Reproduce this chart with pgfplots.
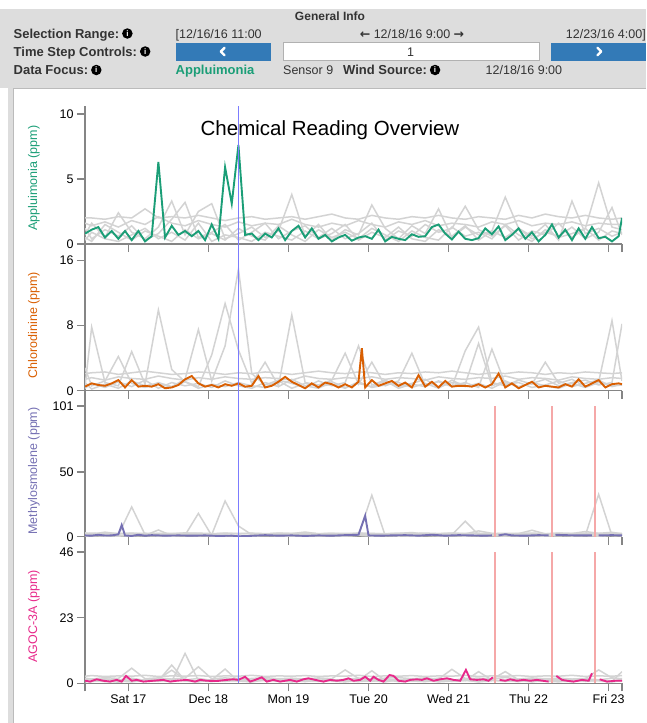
\documentclass[border=0pt]{standalone}
\usepackage{fontspec}
\setmainfont{Liberation Sans}
\newfontfamily\dejavu{DejaVu Sans}
\usepackage{pgfplots}
\usepackage{pgfplotstable}
\pgfplotsset{compat=1.18}

\definecolor{appl}{HTML}{1B9E77}
\definecolor{chlo}{HTML}{D95F02}
\definecolor{meth}{HTML}{7570B3}
\definecolor{agoc}{HTML}{E7298A}
\definecolor{othc}{HTML}{D3D3D3}
\definecolor{selc}{HTML}{7C7CFF}
\definecolor{miss}{HTML}{F5A8A8}
\definecolor{btn}{HTML}{337AB7}
\definecolor{hdr}{HTML}{DDDDDD}
\definecolor{bord}{HTML}{BBBBBB}
\definecolor{axc}{HTML}{858585}
\definecolor{txt}{HTML}{333333}

% hours since 12/16/16 00:00, other sensors
\pgfplotstableread{
t    a    b    c    d    e    f
11   2.0  1.6  0.7  1.2  0.3  0.5
13   2.0  1.4  1.6  0.4  0.9  0.2
17   1.9  1.7  0.5  1.1  0.4  1.5
21   2.1  1.3  2.4  0.6  0.2  0.9
25   2.0  1.8  0.9  1.4  0.7  0.3
29   2.7  1.5  0.4  0.3  1.2  1.0
33   2.0  2.1  1.3  0.8  0.4  0.6
37   2.1  1.6  3.3  1.9  0.9  0.2
41   2.0  1.4  0.7  3.2  0.3  1.1
45   2.2  1.8  2.5  0.5  1.6  0.4
49   2.0  1.5  3.1  0.9  0.2  0.8
53   1.8  1.3  0.4  1.5  0.7  0.3
57   2.0  1.7  0.8  0.3  0.5  1.2
61   2.1  1.4  1.3  0.9  0.2  0.6
65   1.9  1.6  0.5  1.6  0.9  0.3
69   2.0  1.5  1.0  0.4  0.6  1.4
73   2.1  1.9  3.8  1.0  0.3  0.7
77   1.9  1.5  0.6  1.4  1.0  0.2
81   2.1  1.3  1.5  0.5  0.4  1.1
85   2.3  1.6  0.3  1.2  0.8  0.5
89   2.0  1.4  1.1  0.4  1.5  0.9
93   1.9  1.8  0.7  0.8  0.3  0.4
97   2.2  1.5  3.0  1.6  0.9  1.2
101  2.0  1.3  1.2  0.3  0.5  0.7
105  1.9  1.7  0.4  1.0  1.3  0.2
109  2.1  1.5  1.4  0.6  0.4  1.0
113  2.0  1.8  0.8  1.5  0.2  0.5
117  2.2  1.4  2.7  0.9  1.1  0.3
121  2.0  1.6  0.5  1.2  0.6  1.3
125  1.9  1.5  1.3  2.9  1.4  0.6
129  2.1  1.3  0.7  1.1  0.3  0.9
133  2.0  1.7  1.0  0.6  1.0  0.4
137  1.9  1.5  3.6  1.4  0.5  1.5
141  2.2  1.8  1.2  0.3  1.2  0.7
145  2.0  1.4  0.6  1.0  0.4  0.2
149  2.3  1.6  1.5  0.7  0.9  1.1
153  2.1  1.5  0.3  1.6  0.6  0.5
157  2.0  1.7  3.3  0.5  1.3  0.8
161  2.2  1.4  0.8  1.2  0.4  1.2
165  2.0  1.6  1.2  4.7  0.9  0.3
169  1.9  1.5  0.6  1.3  2.8  1.0
172  2.0  1.5  0.9  1.1  0.7  0.8
}\grayA

\pgfplotstableread{
t    a    b    c    d    e    f
11   2.1  1.4  0.5  2.8  0.3  1.0
13   2.2  1.6  7.8  0.6  0.9  0.2
17   2.3  1.3  1.0  1.2  0.4  0.8
21   2.0  1.7  0.6  4.2  1.1  0.3
25   2.2  1.5  4.8  0.9  0.5  1.2
29   2.4  1.4  0.8  0.4  1.3  0.6
33   2.2  1.8  9.9  1.0  0.3  0.9
37   2.0  1.5  2.6  0.5  1.0  0.4
41   2.1  1.3  1.1  1.4  0.6  1.1
45   2.3  1.6  0.5  7.5  0.9  0.3
49   2.2  1.4  4.4  1.2  0.4  0.8
53   2.0  1.7  10.7 5.5  1.2  0.5
57   2.2  1.5  5.0  14.9 0.6  1.0
61   2.1  1.4  0.9  2.1  0.3  0.6
65   2.3  1.6  3.5  0.7  1.0  0.4
69   2.2  1.5  0.6  1.3  0.5  1.2
73   2.0  1.3  9.3  0.9  1.4  0.3
77   2.2  1.8  1.0  0.4  0.6  0.9
81   2.4  1.5  0.7  1.2  0.3  0.5
85   2.2  1.4  1.3  0.6  1.1  0.8
89   2.1  1.6  4.6  1.0  0.4  0.3
93   2.3  1.5  0.8  5.5  0.9  1.1
97   2.2  1.7  3.5  0.7  0.5  0.4
101  2.0  1.4  0.6  1.3  1.2  0.7
105  2.2  1.6  1.2  0.5  0.3  1.0
109  2.1  1.5  4.6  0.9  0.8  0.4
113  2.3  1.3  0.7  1.4  0.5  0.9
117  2.2  1.7  1.1  0.4  1.2  0.3
121  2.4  1.5  0.5  1.0  0.6  1.3
125  2.2  1.4  4.9  0.8  1.0  0.5
129  2.0  1.6  7.8  5.8  0.4  0.9
133  2.2  1.5  1.0  0.6  5.1  0.3
137  2.1  1.8  0.6  1.2  0.8  1.1
141  2.3  1.4  1.3  0.5  1.0  0.4
145  2.2  1.6  0.8  0.9  0.4  1.0
149  2.0  1.5  3.5  1.4  0.7  0.6
153  2.2  1.3  0.9  0.6  1.2  0.3
157  2.1  1.7  1.4  1.0  0.5  0.9
161  2.3  1.5  0.5  1.3  0.9  0.4
165  2.2  1.4  1.1  0.7  1.3  1.0
169  2.1  1.6  8.6  1.0  0.5  0.6
172  2.2  1.5  1.2  8.2  0.8  0.7
}\grayB

\pgfplotstableread{
t    a    b    c    d    e    f
11   2.5  1.5  0.8  3.0  1.2  0.5
13   2.8  1.2  1.0  2.0  0.6  1.5
17   2.4  1.8  0.5  3.5  1.0  0.8
21   2.6  1.4  1.2  2.2  0.4  1.0
25   2.5  23.0 0.7  2.8  1.3  0.6
29   2.7  1.6  1.0  2.0  0.8  1.2
33   2.4  1.3  5.2  2.6  0.5  0.9
37   2.6  1.7  0.8  2.2  1.1  0.4
41   2.5  1.5  1.2  3.0  0.7  1.0
45   2.8  1.4  18.0 2.4  1.0  0.6
49   2.4  1.6  0.9  2.0  0.5  1.3
53   2.6  27.6 1.1  2.8  1.2  0.7
57   2.5  8.3  0.6  2.2  0.8  1.0
61   2.7  1.5  1.0  2.6  0.4  0.5
65   2.4  1.2  0.8  2.0  1.1  1.2
69   2.6  1.6  1.3  2.8  0.6  0.8
73   2.5  1.4  0.7  2.4  1.0  0.4
77   2.8  1.7  1.0  3.6  0.5  1.1
81   2.4  1.3  0.6  2.2  1.2  0.7
85   2.6  1.5  1.1  2.6  0.8  1.0
89   2.5  1.8  0.9  2.0  0.4  0.6
93   2.7  1.4  1.2  2.8  1.0  1.3
97   2.5  1.6  32.0 2.4  0.7  0.5
101  2.4  1.3  0.8  2.2  1.1  0.9
105  2.6  1.7  1.0  2.6  0.5  1.2
109  2.5  1.5  0.6  3.2  0.9  0.4
113  2.8  1.2  1.2  2.0  1.3  0.8
117  2.4  1.6  0.9  2.4  0.6  1.0
121  2.6  1.4  1.1  2.8  1.0  0.6
125  2.5  12.0 0.7  2.2  0.4  1.3
129  2.7  1.5  1.0  4.5  1.2  0.7
133  2.4  1.8  0.8  2.6  0.8  1.0
137  2.6  1.3  1.2  2.0  0.5  0.5
141  2.5  1.6  0.6  2.4  1.1  1.2
145  2.8  1.4  1.0  5.0  0.7  0.8
149  2.4  1.7  0.9  2.2  1.0  0.4
153  2.6  1.5  1.3  2.8  0.6  1.1
157  2.5  1.2  0.7  2.4  1.2  0.7
161  2.7  1.6  1.0  4.0  0.8  1.0
165  2.5  1.4  32.7 2.6  0.5  0.6
169  2.4  1.8  0.8  3.4  1.0  1.2
172  2.6  1.5  1.1  2.2  0.7  0.9
}\grayC

\pgfplotstableread{
t    a    b    c    d    e    f
11   2.5  1.8  0.8  1.4  0.5  1.0
13   2.7  1.5  1.2  0.9  1.1  0.6
17   2.4  2.0  0.6  1.6  0.8  1.2
21   2.6  1.7  1.0  1.1  0.4  0.8
25   2.5  5.3  0.7  1.8  1.2  0.5
29   2.8  1.6  1.3  1.0  0.7  1.1
33   2.4  1.9  0.9  1.5  1.0  0.7
37   2.6  1.5  6.4  4.6  0.6  1.3
41   2.5  1.8  1.0  1.2  10.5 0.8
45   2.7  5.8  0.8  1.7  0.9  0.5
49   2.4  1.6  1.2  1.0  0.6  1.2
53   2.6  1.9  5.0  1.4  1.1  0.7
57   2.5  1.5  0.7  1.8  0.8  1.0
61   2.8  1.7  1.1  1.1  0.5  0.6
65   2.4  2.0  0.9  1.6  1.2  1.3
69   2.6  1.6  1.3  0.9  0.7  0.8
73   2.5  1.8  0.6  1.5  1.0  0.5
77   2.7  1.5  1.0  1.2  0.6  1.1
81   2.4  1.9  0.8  1.7  1.1  0.7
85   2.6  1.6  1.2  1.0  0.8  1.2
89   2.5  4.7  0.7  1.4  0.5  0.9
93   2.8  1.7  1.1  1.8  1.0  0.6
97   2.4  1.5  4.4  1.1  0.7  1.0
101  2.6  1.8  0.9  1.6  1.2  0.5
105  2.5  2.0  1.2  1.0  0.6  1.3
109  2.7  1.6  0.8  1.5  0.9  0.8
113  2.4  1.9  1.0  1.2  1.1  0.6
117  2.6  1.5  0.7  1.8  0.5  1.1
121  2.5  4.9  1.3  1.1  0.8  0.7
125  2.8  1.7  0.9  1.6  1.0  1.2
129  2.4  1.8  4.1  1.0  0.6  0.5
133  2.6  1.6  1.1  1.4  1.2  0.9
137  2.5  2.0  0.8  4.1  0.7  1.0
141  2.7  1.5  1.2  1.2  1.0  0.6
145  2.4  1.9  0.7  1.7  0.5  1.3
149  2.6  1.6  1.0  1.1  1.1  0.8
153  2.5  1.8  0.9  1.5  0.8  0.5
157  2.8  1.5  1.3  1.0  0.6  1.1
161  2.4  1.7  0.8  1.6  1.2  0.7
165  2.6  4.7  1.1  1.2  0.9  1.0
169  2.5  1.9  0.7  1.8  0.5  0.6
172  2.7  1.6  4.1  1.3  1.0  0.9
}\grayD

% sensor 9
\pgfplotstableread{
t v
11 0.8
13 1.1
15 1.3
17 0.5
19 1.0
21 0.4
23 1.0
25 0.3
27 1.0
29 0.2
31 0.6
33 6.3
35 0.5
37 1.4
39 0.7
41 1.0
43 0.6
45 1.0
47 0.3
49 1.5
51 0.4
53 5.9
55 3.1
57 7.6
59 0.7
61 0.8
63 0.3
65 0.8
67 0.5
69 1.2
71 0.3
73 1.0
75 1.4
77 0.5
79 1.2
81 0.4
83 0.7
85 0.2
87 0.5
89 0.7
91 0.25
93 0.5
95 0.6
97 0.4
99 1.1
101 0.2
103 0.55
105 0.4
107 0.3
109 0.75
111 0.55
113 0.6
115 1.3
117 1.5
119 0.8
121 0.35
123 0.95
125 0.4
127 0.3
129 0.45
131 1.2
133 0.75
135 1.35
137 0.3
139 0.7
141 1.2
143 0.4
145 0.9
147 0.2
149 0.7
151 1.5
153 0.5
155 1.1
157 0.3
159 1.2
161 0.4
163 1.3
165 0.45
167 0.55
169 0.2
171 0.6
172 2.0
}\selA

\pgfplotstableread{
t v
11 0.5
13 0.9
15 0.7
17 0.6
19 0.9
21 1.3
23 0.4
25 1.3
27 0.5
29 0.6
31 0.5
33 0.8
35 0.3
37 0.4
39 0.7
41 1.4
43 1.8
45 0.9
47 0.5
49 0.7
51 0.4
53 0.8
55 0.6
57 0.9
59 0.5
61 0.6
63 1.8
65 0.4
67 0.6
69 1.1
71 1.7
73 1.1
75 0.7
77 0.3
79 0.9
81 0.4
83 1.0
85 0.8
87 0.4
89 0.8
91 0.4
93 1.1
94 5.2
95 0.4
97 1.3
99 0.6
101 0.9
103 1.2
105 0.6
107 1.0
109 0.4
111 1.9
113 0.5
115 1.1
117 0.4
119 1.2
121 0.5
123 0.6
125 0.6
127 0.5
129 0.8
131 0.4
133 0.8
135 2.1
137 0.4
139 0.9
141 0.3
143 0.7
145 1.1
147 0.4
149 0.6
151 0.5
153 0.4
155 0.8
157 0.5
159 1.4
161 0.5
163 0.9
165 1.3
167 0.4
169 0.8
171 0.9
172 0.8
}\selB

\pgfplotstableread{
t v
11 1.0
13 0.8
15 1.5
17 0.9
19 1.0
21 1.8
22 9.0
23 1.0
25 0.6
27 1.5
29 0.8
31 1.2
35 0.8
39 1.0
43 0.8
47 1.0
51 0.6
55 0.8
57 0.3
61 0.7
65 1.2
69 0.8
73 1.0
77 0.6
81 1.0
85 0.8
89 1.2
93 1.5
95 16.2
96 1.0
99 0.8
103 1.0
107 1.2
111 0.8
115 1.5
119 0.8
123 1.2
127 1.0
131 0.8
133 1.0
134 nan
135 1.0
137 1.9
139 1.0
143 0.8
147 1.2
150 1.0
151 nan
152 1.5
155 1.2
159 1.0
163 1.0
164 nan
165 1.0
169 1.2
172 1.0
}\selC

\pgfplotstableread{
t v
11 0.9
12.5 0.6
14.5 1.4
16.5 0.9
18.5 0.6
20.5 1.2
22 0.6
23.3 2.6
25 0.9
26.5 1.2
28.5 0.6
31.5 0.9
34.5 1.2
36.5 0.6
38.5 0.9
41.5 1.2
44 0.6
45.5 1.2
47.5 0.9
50.5 0.8
53.5 1.2
55.5 1.4
57 1.2
59 2.3
60.5 0.6
62 1.2
64 2.1
65.5 0.6
67.5 1.2
69.5 0.6
72.5 1.2
74.5 0.6
76.5 1.4
78 1.75
80 1.2
82.5 0.6
84.5 1.2
86.5 0.9
88.5 1.2
90 1.75
91.5 0.9
93.5 1.2
95 2.3
96.5 0.9
97.5 2.3
99 1.2
100.5 0.6
102.3 2.9
103.5 2.6
105 0.9
107 0.6
108.5 1.2
110.5 1.4
112 1.2
113.5 1.75
115.5 0.9
117.5 1.4
119.5 1.75
121.5 1.2
123.5 0.9
125.2 4.7
126.5 1.4
128.5 1.2
130.5 1.4
132 0.9
133.3 2.1
134 nan
135.3 1.2
137 0.9
138.5 1.4
140.5 0.9
142.5 1.2
144.5 0.9
146.5 1.2
150 0.6
151 nan
152.3 2.6
154 1.2
155.5 0.9
157.5 0.6
160 1.2
162 0.9
163 3.5
164 nan
165.3 1.4
167.5 0.6
170 0.9
172 0.9
}\selD

\pgfplotsset{
  chem/.style={
    scale only axis, width=537pt, anchor=south west,
    xmin=11, xmax=172, ymin=0,
    axis x line*=bottom, axis y line*=left,
    axis line style={-, draw=axc, line width=1.4pt},
    tick style={draw=axc, line width=1.4pt},
    tick align=outside, major tick length=8pt,
    xtick={11,24,48,72,96,120,144,168,172},
    xticklabels={},
    tick label style={font=\fontsize{12.5}{15}\selectfont, text=black},
    /pgf/number format/assume math mode=true,
    unbounded coords=jump,
  },
  gry/.style={color=othc, line width=1.5pt, no marks},
  hl/.style={line width=1.9pt, no marks},
  gap/.style={color=miss, line width=1.8pt, no marks},
  now/.style={color=selc, line width=1.7pt, no marks},
}

\begin{document}
\begin{tikzpicture}
\useasboundingbox (0pt,0pt) rectangle (646pt,-723pt);
\begin{scope}[x=1pt,y=-1pt,
  lab/.style={font=\fontsize{13}{15}\selectfont\bfseries, text=txt, inner sep=0pt, text height=9pt, text depth=0pt, anchor=west},
  val/.style={font=\fontsize{12.5}{15}\selectfont, text=txt, inner sep=0pt, text height=9pt, text depth=0pt},
  info/.style={circle, fill=black, inner sep=0pt, minimum size=10.5pt, text=white, font=\fontsize{8}{8}\selectfont\bfseries}]
  % header
  \fill[hdr] (0,9) rectangle (646,88);
  \node[font=\fontsize{12}{14}\selectfont\bfseries, text=txt] at (330,16) {General Info};
  \node[lab] (l1) at (13.5,33.5) {Selection Range:};
  \node[info] at ([xshift=8pt]l1.east) {i};
  \node[lab] (l2) at (13.5,51.5) {Time Step Controls:};
  \node[info] at ([xshift=8pt]l2.east) {i};
  \node[lab] (l3) at (13.5,70) {Data Focus:};
  \node[info] at ([xshift=8pt]l3.east) {i};
  \node[val, anchor=west] at (175.5,33.5) {[12/16/16 11:00};
  \node[val] at (412,33.5) {{\dejavu\bfseries ←} 12/18/16 9:00 {\dejavu\bfseries →}};
  \node[val, anchor=east] at (646,33.5) {12/23/16 4:00]};
  \fill[btn] (175.5,42.5) rectangle (270.5,60.5);
  \draw[white, line width=2.4pt, line cap=round, line join=round] (224.5,47.8) -- (220.8,51.5) -- (224.5,55.2);
  \filldraw[fill=white, draw=hdr!80!black, line width=0.6pt] (283,42.5) rectangle (539,60.5);
  \node[val] at (410.5,51.5) {1};
  \fill[btn] (551,42.5) rectangle (646,60.5);
  \draw[white, line width=2.4pt, line cap=round, line join=round] (597.5,47.8) -- (601.2,51.5) -- (597.5,55.2);
  \node[lab, text=appl] at (175.5,70) {Appluimonia};
  \node[val, anchor=west] at (283,70) {Sensor 9};
  \node[lab] (l4) at (343,70) {Wind Source:};
  \node[info] at ([xshift=8pt]l4.east) {i};
  \node[val, anchor=west] at (485.5,70) {12/18/16 9:00};
  % panel frame
  \fill[hdr] (8,88) rectangle (13,723);
  \draw[bord, line width=0.8pt] (13.4,723) -- (13.4,88.6) -- (646,88.6);
\end{scope}

% Appluimonia
\begin{axis}[chem, at={(85pt,-244pt)}, height=138pt, ymax=10.6, ytick={0,5,10}]
  \pgfplotsinvokeforeach{a,b,c,d,e,f}{\addplot[gry] table[x=t, y=#1]{\grayA};}
  \addplot[hl, appl] table[x=t, y=v]{\selA};
  \addplot[now] coordinates {(57,0) (57,10.6)};
\end{axis}

% Chlorodinine
\begin{axis}[chem, at={(85pt,-390.7pt)}, height=146.7pt, ymax=18, ytick={0,8,16}]
  \pgfplotsinvokeforeach{a,b,c,d,e,f}{\addplot[gry] table[x=t, y=#1]{\grayB};}
  \addplot[hl, chlo] table[x=t, y=v]{\selB};
  \addplot[now] coordinates {(57,0) (57,18)};
\end{axis}

% Methylosmolene
\begin{axis}[chem, at={(85pt,-536.7pt)}, height=146pt, ymax=112.8, ytick={0,50,101}]
  \pgfplotsinvokeforeach{a,b,c,d,e,f}{\addplot[gry] table[x=t, y=#1]{\grayC};}
  \addplot[hl, meth] table[x=t, y=v]{\selC};
  \addplot[now] coordinates {(57,0) (57,112.8)};
  \addplot[gap] coordinates {(134,0) (134,101)};
  \addplot[gap] coordinates {(151,0) (151,101)};
  \addplot[gap] coordinates {(164,0) (164,101)};
\end{axis}

% AGOC-3A
\begin{axis}[chem, at={(85pt,-683.3pt)}, height=146.6pt, ymax=51.4, ytick={0,23,46},
    xticklabels={,Sat 17,Dec 18,Mon 19,Tue 20,Wed 21,Thu 22,Fri 23,}]
  \pgfplotsinvokeforeach{a,b,c,d,e,f}{\addplot[gry] table[x=t, y=#1]{\grayD};}
  \addplot[hl, agoc] table[x=t, y=v]{\selD};
  \addplot[now] coordinates {(57,0) (57,51.4)};
  \addplot[gap] coordinates {(134,0) (134,46)};
  \addplot[gap] coordinates {(151,0) (151,46)};
  \addplot[gap] coordinates {(164,0) (164,46)};
\end{axis}

\begin{scope}[x=1pt,y=-1pt, yl/.style={rotate=90, font=\fontsize{12.5}{15}\selectfont}]
  \node[font=\fontsize{20.5}{24}\selectfont, text=black] at (330,130) {Chemical Reading Overview};
  \node[yl, text=appl] at (34,178) {Appluimonia (ppm)};
  \node[yl, text=chlo] at (34,325) {Chlorodinine (ppm)};
  \node[yl, text=meth] at (34,471) {Methylosmolene (ppm)};
  \node[yl, text=agoc] at (34,616.5) {AGOC-3A (ppm)};
\end{scope}
\end{tikzpicture}
\end{document}
